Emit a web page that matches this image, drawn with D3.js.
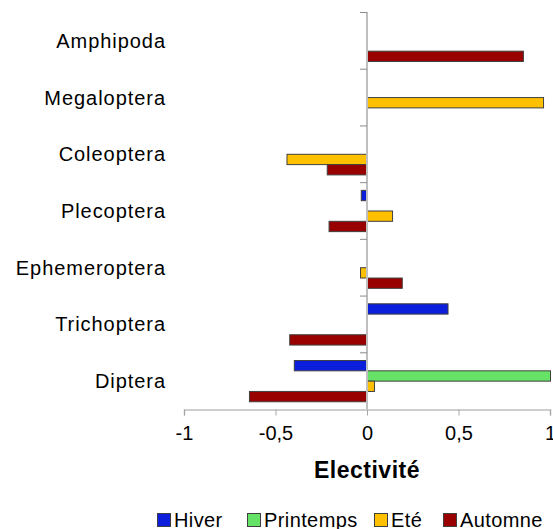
<!DOCTYPE html>
<html>
<head>
<meta charset="utf-8">
<script src="https://cdn.jsdelivr.net/npm/d3@7"></script>
<style>
  body { margin: 0; background: #fff; }
  svg { display: block; font-family: "Liberation Sans", Arial, sans-serif; }
</style>
</head>
<body>
<script>
// Chart size
const width = 553, height = 529;

// Data
const categories = ["Amphipoda", "Megaloptera", "Coleoptera", "Plecoptera", "Ephemeroptera", "Trichoptera", "Diptera"];
const seasons = ["Hiver", "Printemps", "Eté", "Automne"];
const hiver     = [null, null, null, -0.034, null, 0.44, -0.40];
const printemps = [null, null, null, null, null, null, 1.0];
const ete       = [null, 0.962, -0.44, 0.137, -0.038, null, 0.038];
const automne   = [0.852, null, -0.22, -0.21, 0.19, -0.425, -0.645];
const xTicks = [-1, -0.5, 0, 0.5, 1];
const colors = ["#0A1EDC", "#66E366", "#FFC000", "#990000"];

const seriesValues = [hiver, printemps, ete, automne];

const svg = d3.select("body")
      .append("svg")
      .attr("width", width)
      .attr("height", height);

// Scales
const x = d3.scaleLinear().domain([-1, 1]).range([184, 550]);
const y = d3.scaleBand().domain(categories).range([12, 409]);
const ySub = d3.scaleBand().domain(seasons).range([0, y.bandwidth()]).paddingOuter(0.75);

// Bars
const rows = [];
categories.forEach((c, i) => {
    seasons.forEach((s, j) => {
        const v = seriesValues[j][i];
        if (v !== null) rows.push({cat: c, season: s, value: v, color: colors[j]});
    });
});

svg.append("g")
    .selectAll("rect")
    .data(rows)
    .enter().append("rect")
    .attr("x", d => x(Math.min(0, d.value)) + 0.5)
    .attr("y", d => y(d.cat) + ySub(d.season) + 0.5)
    .attr("width", d => Math.abs(x(d.value) - x(0)))
    .attr("height", ySub.bandwidth())
    .style("fill", d => d.color)
    .style("stroke", "#404040")
    .style("stroke-width", 1);

// Vertical axis at zero with category ticks
const yAxis = svg.append("g");
yAxis.append("line")
    .attr("x1", x(0)).attr("x2", x(0))
    .attr("y1", 12).attr("y2", 409)
    .style("stroke", "#BFBFBF")
    .style("stroke-width", 2);
yAxis.selectAll(".ytick")
    .data(categories)
    .enter().append("line")
    .attr("class", "ytick")
    .attr("x1", x(0) - 7).attr("x2", x(0))
    .attr("y1", d => y(d) + 0.5).attr("y2", d => y(d) + 0.5)
    .style("stroke", "#8C8C8C");

// Category labels
svg.append("g")
    .selectAll("text")
    .data(categories)
    .enter().append("text")
    .attr("x", 166)
    .attr("y", d => y(d) + y.bandwidth() / 2 + 7.5)
    .attr("text-anchor", "end")
    .style("font-size", "20px")
    .style("letter-spacing", "0.95px")
    .style("fill", "#000")
    .text(d => d);

// Bottom axis
const fmt = d => String(d).replace(".", ",");
const xAxis = svg.append("g")
    .attr("transform", "translate(0,409.5)")
    .call(d3.axisBottom(x).tickValues(xTicks).tickFormat(fmt).tickSize(6).tickPadding(10));
xAxis.select(".domain").style("stroke", "#BFBFBF").style("stroke-width", 1.5);
xAxis.selectAll(".tick line").style("stroke", "#A6A6A6");
xAxis.selectAll(".tick text")
    .style("font-size", "20px")
    .style("font-family", "Liberation Sans, Arial, sans-serif")
    .style("fill", "#000");

// Axis title
svg.append("text")
    .attr("x", x(0))
    .attr("y", 478)
    .attr("text-anchor", "middle")
    .style("font-size", "23px")
    .style("font-weight", "bold")
    .style("letter-spacing", "0.5px")
    .text("Electivité");

// Legend
const legendX = [157, 247, 374, 443];
const legend = svg.append("g")
    .selectAll("g")
    .data(seasons)
    .enter().append("g")
    .attr("transform", (d, i) => `translate(${legendX[i]},513)`);
legend.append("rect")
    .attr("x", 0.5).attr("y", 0.5)
    .attr("width", 13).attr("height", 13)
    .style("fill", (d, i) => colors[i])
    .style("stroke", "#404040");
legend.append("text")
    .attr("x", 17)
    .attr("y", 14)
    .style("font-size", "20px")
    .style("letter-spacing", "0.4px")
    .text(d => d);
</script>
</body>
</html>
